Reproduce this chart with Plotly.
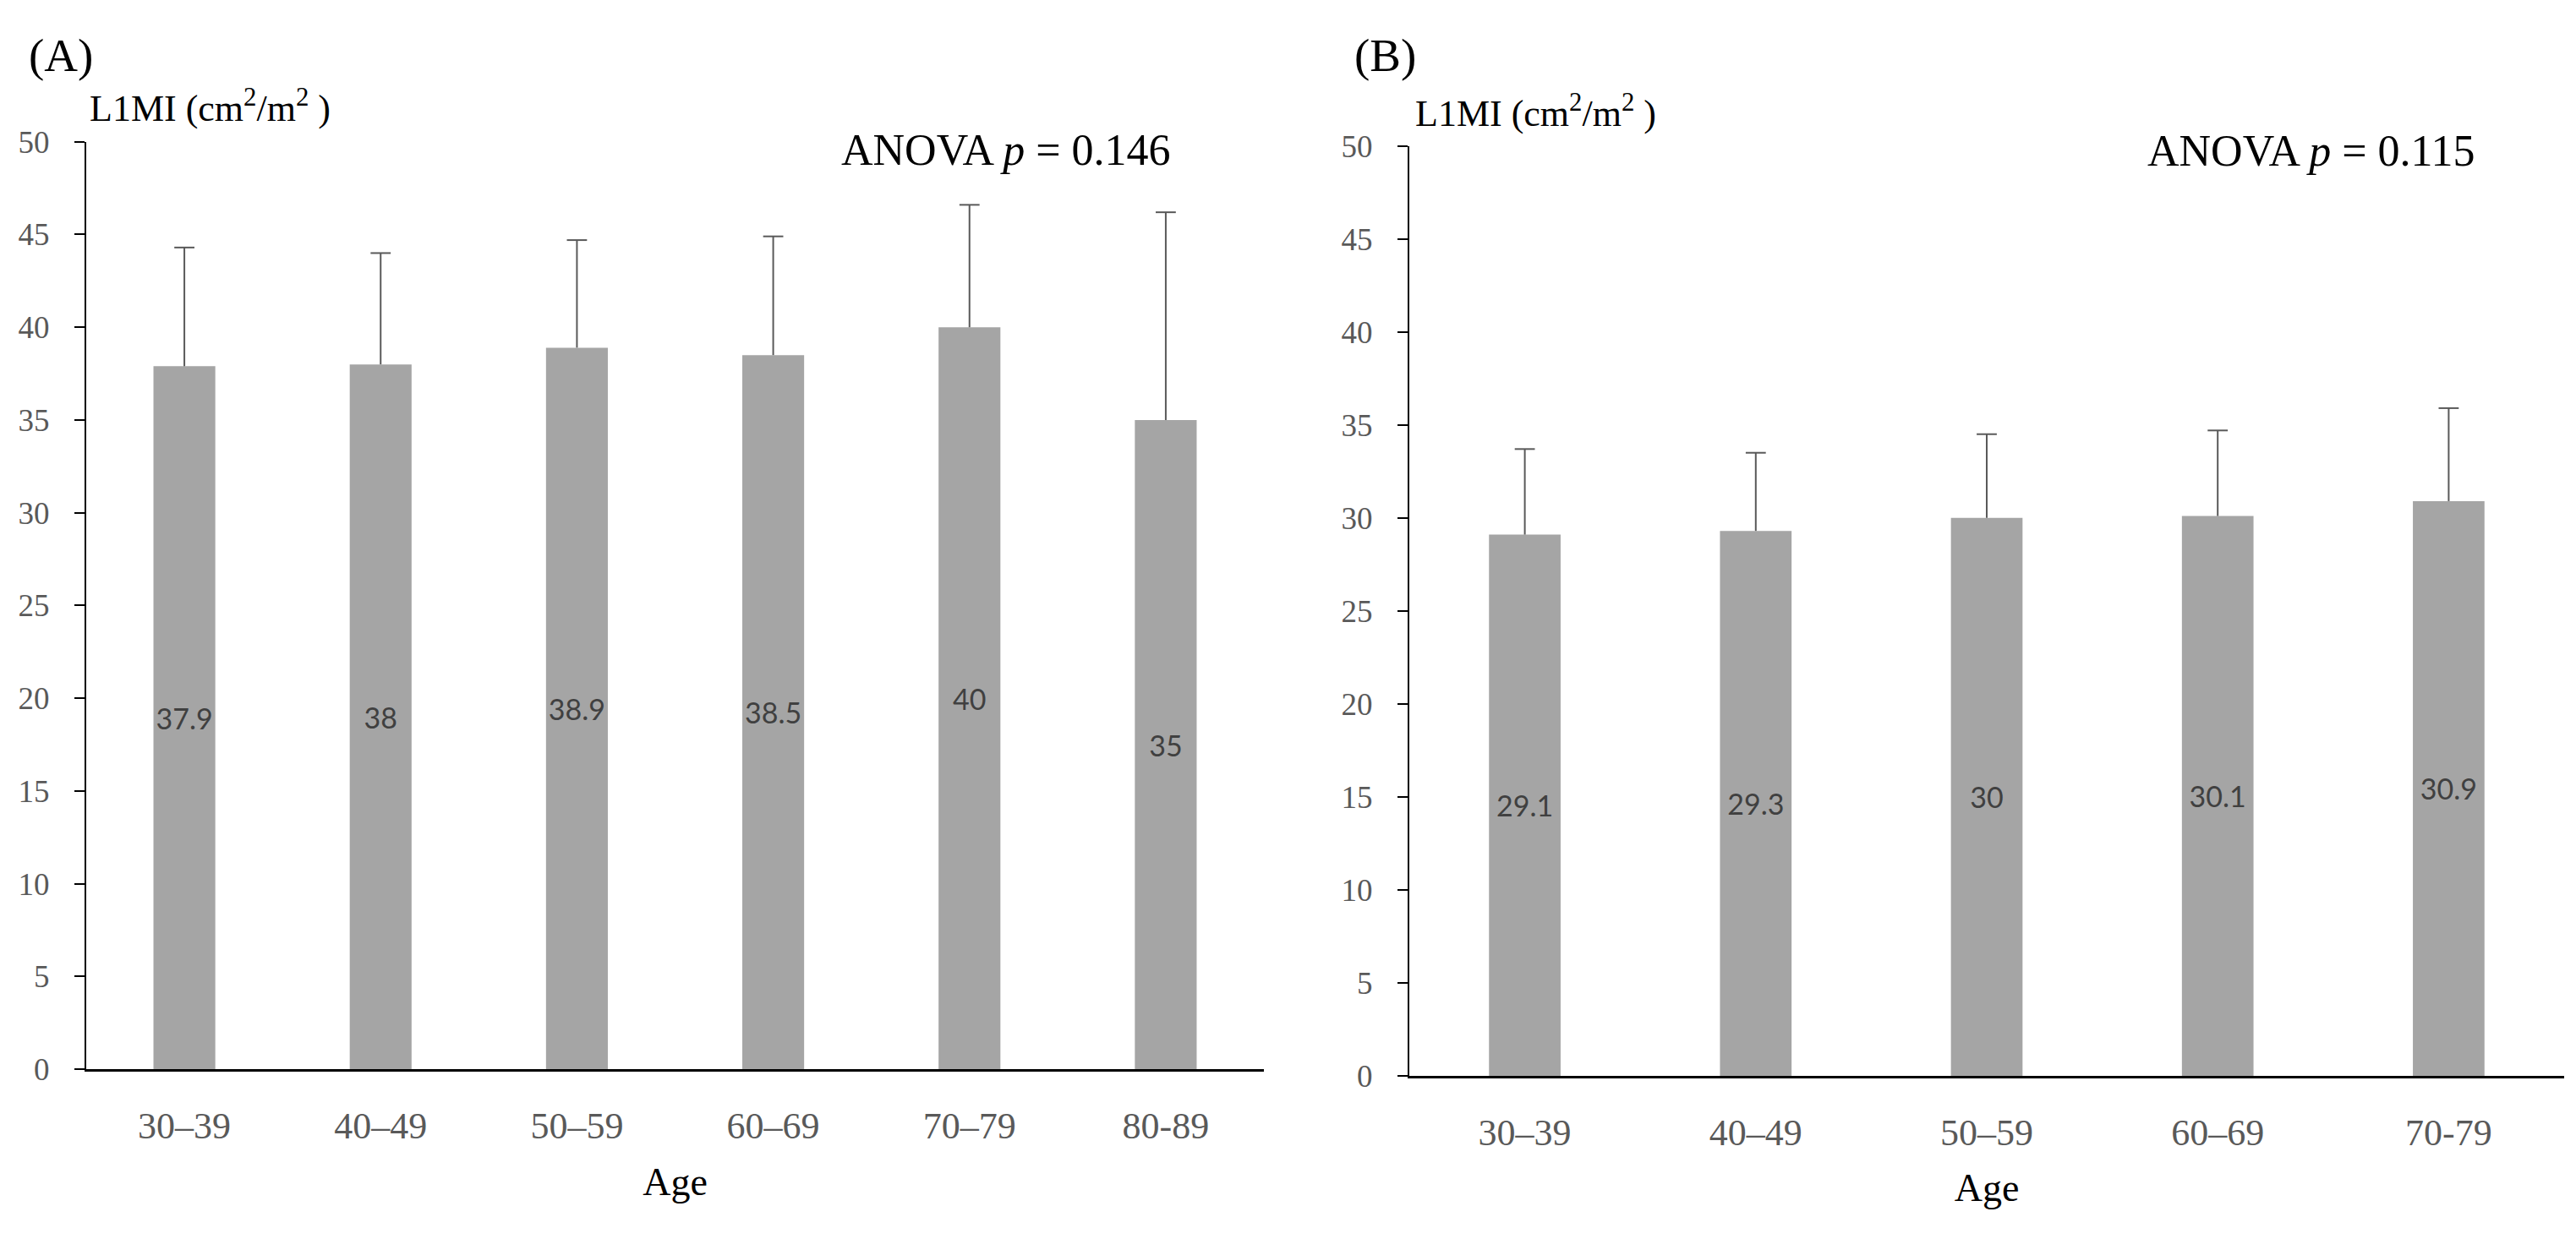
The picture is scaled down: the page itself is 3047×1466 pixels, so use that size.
import plotly.graph_objects as go

# --- 数据 ---
ages_a = ["30–39", "40–49", "50–59", "60–69", "70–79", "80-89"]
mean_a = [37.9, 38.0, 38.9, 38.5, 40.0, 35.0]
sd_a = [6.4, 6.0, 5.8, 6.4, 6.6, 11.2]

ages_b = ["30–39", "40–49", "50–59", "60–69", "70-79"]
mean_b = [29.1, 29.3, 30.0, 30.1, 30.9]
sd_b = [4.6, 4.2, 4.5, 4.6, 5.0]

anova_a = "0.146"
anova_b = "0.115"

# --- 样式 ---
W, H = 3047, 1466
BAR_COLOR = "#A5A5A5"
ERR_COLOR = "#595959"
SERIF = "Liberation Serif, Times New Roman, serif"
SANS = "Lato, Open Sans, sans-serif"
TICK_GRAY = "#595959"


def add_panel(fig, ages, means, sds, xa, ya, bar_w):
    """一个面板: 柱 + 单向误差线 + 居中数值标签"""
    n = len(ages)
    fig.add_trace(go.Bar(
        x=ages, y=means, width=bar_w,
        marker=dict(color=BAR_COLOR, line=dict(width=0)),
        error_y=dict(type="data", symmetric=False, array=sds,
                     arrayminus=[0] * n, color=ERR_COLOR,
                     thickness=2, width=0),
        text=[f"{v:g}" for v in means],
        textposition="inside", insidetextanchor="middle",
        textangle=0, constraintext="none",
        textfont=dict(family=SANS, size=34, color="#404040"),
        xaxis=xa, yaxis=ya, showlegend=False,
    ))
    # 误差线顶端横线
    fig.add_trace(go.Scatter(
        x=ages, y=[m + s for m, s in zip(means, sds)], mode="markers",
        marker=dict(symbol="line-ew", size=17,
                    line=dict(width=2, color=ERR_COLOR)),
        xaxis=xa, yaxis=ya, showlegend=False, cliponaxis=False,
        hoverinfo="skip",
    ))


fig = go.Figure()
add_panel(fig, ages_a, mean_a, sd_a, "x", "y", 0.315)
add_panel(fig, ages_b, mean_b, sd_b, "x2", "y2", 0.31)

xaxis_style = dict(
    type="category", showline=True, linecolor="black", linewidth=3,
    ticks="", showgrid=False, zeroline=False,
    tickfont=dict(family=SERIF, size=44, color=TICK_GRAY),
    ticklabelstandoff=26,
    title=dict(text="Age", font=dict(family=SERIF, size=46, color="black"),
               standoff=26),
)
yaxis_style = dict(
    range=[0, 50], dtick=5, showline=True, linecolor="black", linewidth=2,
    ticks="outside", ticklen=12, tickwidth=2, tickcolor="black",
    showgrid=False, zeroline=False,
    tickfont=dict(family=SERIF, size=37, color=TICK_GRAY),
    ticklabelstandoff=22,
)

fig.update_layout(
    width=W, height=H,
    margin=dict(l=0, r=0, t=0, b=0),
    plot_bgcolor="white", paper_bgcolor="white",
    xaxis=dict(xaxis_style, domain=[102 / W, 1495 / W], anchor="y",
               range=[-0.5, len(ages_a) - 0.5]),
    yaxis=dict(yaxis_style, domain=[1 - 1281 / H, 1 - 152 / H], anchor="x"),
    xaxis2=dict(xaxis_style, domain=[1667 / W, 3033 / W], anchor="y2",
                range=[-0.5, len(ages_b) - 0.5]),
    yaxis2=dict(yaxis_style, domain=[1 - 1289 / H, 1 - 157 / H], anchor="x2"),
)

# --- 文字标注 (位置按像素) ---
notes = [
    ("(A)", 32, 47, "left", 55),
    ("L1MI (cm<sup>2</sup>/m<sup>2</sup> )", 104, 109, "left", 44),
    (f"ANOVA <i>p</i> = {anova_a}", 1387, 162, "right", 52),
    ("(B)", 1600, 47, "left", 55),
    ("L1MI (cm<sup>2</sup>/m<sup>2</sup> )", 1672, 115, "left", 44),
    (f"ANOVA <i>p</i> = {anova_b}", 2930, 163, "right", 52),
]
for text, px, py, anchor, size in notes:
    fig.add_annotation(
        text=text, xref="paper", yref="paper",
        x=px / W, y=1 - py / H, xanchor=anchor, yanchor="middle",
        showarrow=False, font=dict(family=SERIF, size=size, color="black"),
    )

fig.write_html("out.html", config={"displayModeBar": False},
               post_script="document.body.style.margin='0px';")
